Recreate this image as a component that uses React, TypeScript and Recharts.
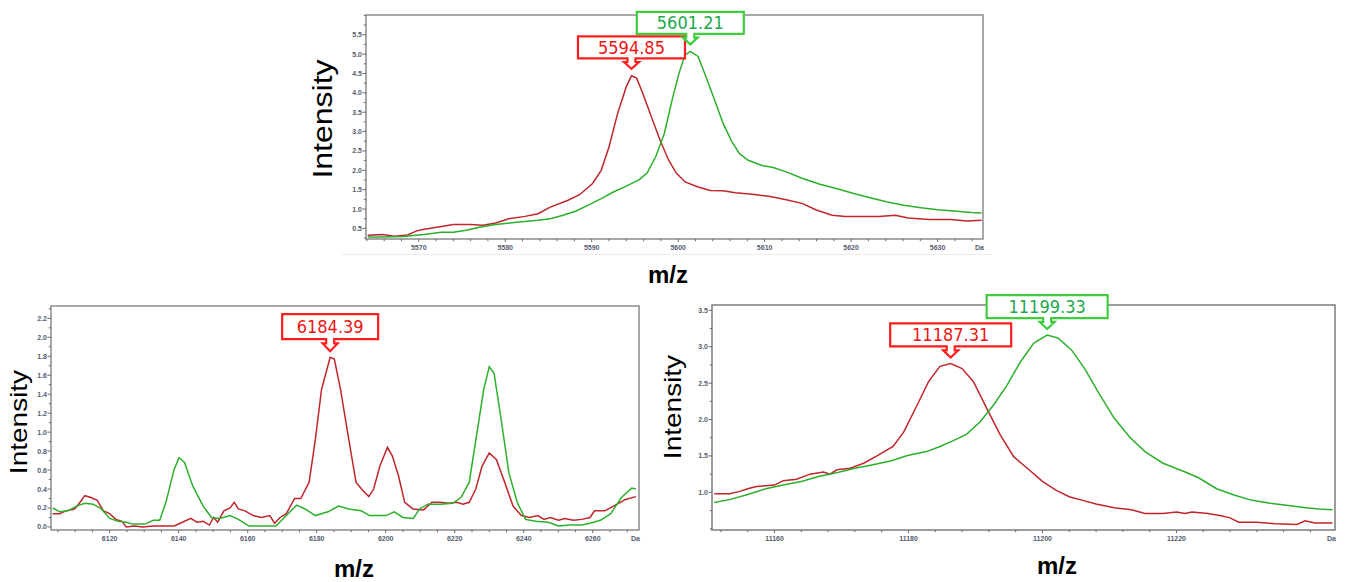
import React from 'react';
import { LineChart, Line, XAxis, YAxis, ReferenceArea, ReferenceDot } from 'recharts';

// ---------- Panel A (top) ----------
const mzA_red = [5564.1, 5565.8, 5567.2, 5568.7, 5569.7, 5570.6, 5572.1, 5574.0, 5576.0, 5577.4, 5578.9, 5580.4, 5582.3, 5583.8, 5585.2, 5587.2, 5588.6, 5590.1, 5591.1, 5592.0, 5593.0, 5594.0, 5594.6, 5595.2, 5595.9, 5596.9, 5597.9, 5598.9, 5599.8, 5600.8, 5602.3, 5603.7, 5605.2, 5606.6, 5608.6, 5610.5, 5612.5, 5614.4, 5615.9, 5617.8, 5619.3, 5621.2, 5623.2, 5625.1, 5626.6, 5629.0, 5631.5, 5633.4, 5635.1];
const intA_red = [0.32, 0.34, 0.30, 0.33, 0.43, 0.48, 0.53, 0.60, 0.60, 0.58, 0.64, 0.75, 0.81, 0.88, 1.05, 1.22, 1.37, 1.66, 2.0, 2.6, 3.47, 4.16, 4.44, 4.38, 3.99, 3.38, 2.78, 2.26, 1.92, 1.70, 1.57, 1.48, 1.47, 1.42, 1.38, 1.33, 1.24, 1.14, 0.98, 0.84, 0.81, 0.81, 0.81, 0.84, 0.77, 0.73, 0.73, 0.69, 0.71];
const mzA_green = [5564.1, 5565.8, 5568.2, 5570.6, 5572.6, 5574.0, 5575.5, 5577.0, 5578.9, 5581.3, 5583.8, 5585.2, 5586.7, 5588.2, 5589.6, 5591.1, 5592.5, 5594.0, 5595.5, 5596.4, 5597.4, 5598.4, 5599.3, 5600.1, 5600.8, 5601.4, 5602.3, 5603.2, 5604.2, 5605.2, 5606.2, 5607.1, 5608.1, 5609.6, 5611.0, 5612.5, 5614.4, 5616.4, 5618.3, 5620.3, 5622.2, 5624.2, 5626.1, 5628.1, 5630.0, 5631.9, 5633.9, 5635.1];
const intA_green = [0.28, 0.28, 0.29, 0.34, 0.40, 0.40, 0.45, 0.53, 0.60, 0.66, 0.71, 0.75, 0.84, 0.95, 1.10, 1.27, 1.44, 1.59, 1.76, 1.93, 2.35, 2.95, 3.82, 4.51, 4.98, 5.07, 4.94, 4.42, 3.82, 3.21, 2.74, 2.43, 2.26, 2.13, 2.07, 1.96, 1.79, 1.64, 1.53, 1.40, 1.29, 1.18, 1.10, 1.03, 0.98, 0.95, 0.91, 0.90];
const xTicksA = [5570, 5580, 5590, 5600, 5610, 5620, 5630];
const yTicksA = [0.5, 1.0, 1.5, 2.0, 2.5, 3.0, 3.5, 4.0, 4.5, 5.0, 5.5];
const xDomainA = [5563.9, 5635.25];
const yDomainA = [0.226, 6.01];
const peaksA = [
  { series: 'red', label: '5594.85' },
  { series: 'green', label: '5601.21' },
];

// ---------- Panel B (bottom left) ----------
const mzB_red = [6103.5, 6105.5, 6107.3, 6109.8, 6111.0, 6112.8, 6114.6, 6116.4, 6118.2, 6120.0, 6121.8, 6123.6, 6124.8, 6127.2, 6129.6, 6132.7, 6135.7, 6138.7, 6141.1, 6143.5, 6145.3, 6147.1, 6148.9, 6150.1, 6151.3, 6153.1, 6154.9, 6156.1, 6157.3, 6159.2, 6161.6, 6164.0, 6166.4, 6167.8, 6169.4, 6171.2, 6173.6, 6175.4, 6177.8, 6179.6, 6181.4, 6183.9, 6185.1, 6186.9, 6189.3, 6191.4, 6193.5, 6195.1, 6196.5, 6198.3, 6200.5, 6201.9, 6203.7, 6205.5, 6207.9, 6211.0, 6213.4, 6215.8, 6218.2, 6220.6, 6222.4, 6224.2, 6226.1, 6227.9, 6230.0, 6232.1, 6234.5, 6236.9, 6239.3, 6241.7, 6244.1, 6245.9, 6247.7, 6250.1, 6251.9, 6254.4, 6256.8, 6259.2, 6260.5, 6263.5, 6267.1, 6269.5, 6272.5];
const intB_red = [0.14, 0.14, 0.17, 0.19, 0.24, 0.33, 0.31, 0.28, 0.17, 0.14, 0.08, 0.06, 0.00, 0.01, 0.00, 0.01, 0.01, 0.01, 0.05, 0.09, 0.05, 0.06, 0.02, 0.10, 0.05, 0.17, 0.20, 0.26, 0.19, 0.17, 0.12, 0.10, 0.12, 0.04, 0.10, 0.14, 0.30, 0.30, 0.47, 0.92, 1.45, 1.79, 1.77, 1.45, 0.92, 0.47, 0.38, 0.32, 0.40, 0.64, 0.84, 0.75, 0.54, 0.26, 0.19, 0.18, 0.26, 0.26, 0.25, 0.26, 0.24, 0.26, 0.40, 0.64, 0.78, 0.71, 0.47, 0.22, 0.12, 0.10, 0.12, 0.08, 0.10, 0.07, 0.09, 0.07, 0.08, 0.10, 0.17, 0.17, 0.24, 0.29, 0.32];
const mzB_green = [6103.5, 6105.5, 6107.9, 6110.4, 6112.8, 6115.2, 6117.6, 6120.0, 6122.4, 6124.8, 6126.6, 6130.2, 6132.7, 6134.5, 6136.3, 6138.7, 6140.1, 6141.7, 6144.1, 6147.1, 6149.5, 6151.9, 6154.9, 6157.3, 6160.4, 6164.0, 6168.2, 6171.2, 6174.2, 6176.6, 6179.6, 6183.3, 6186.3, 6189.3, 6192.9, 6195.3, 6197.7, 6200.1, 6202.5, 6205.0, 6208.0, 6209.8, 6212.2, 6215.8, 6219.4, 6221.8, 6224.2, 6226.6, 6228.4, 6230.0, 6231.4, 6233.3, 6235.7, 6238.1, 6240.5, 6243.5, 6247.1, 6250.1, 6253.1, 6256.8, 6259.2, 6262.2, 6265.2, 6268.3, 6271.3, 6272.5];
const intB_green = [0.20, 0.16, 0.17, 0.22, 0.25, 0.24, 0.19, 0.09, 0.06, 0.05, 0.03, 0.03, 0.07, 0.07, 0.26, 0.61, 0.73, 0.68, 0.43, 0.22, 0.10, 0.09, 0.12, 0.08, 0.01, 0.01, 0.01, 0.12, 0.23, 0.19, 0.12, 0.16, 0.22, 0.19, 0.17, 0.12, 0.12, 0.12, 0.16, 0.10, 0.09, 0.19, 0.24, 0.24, 0.25, 0.31, 0.47, 1.03, 1.45, 1.69, 1.62, 1.17, 0.57, 0.26, 0.08, 0.06, 0.05, 0.01, 0.02, 0.02, 0.04, 0.07, 0.14, 0.31, 0.41, 0.40];
const xTicksB = [6120, 6140, 6160, 6180, 6200, 6220, 6240, 6260];
const yTicksB = [0.0, 0.2, 0.4, 0.6, 0.8, 1.0, 1.2, 1.4, 1.6, 1.8, 2.0, 2.2];
const xDomainB = [6103.0, 6273.4];
const yDomainB = [-0.032, 2.33];
const peaksB = [{ series: 'red', label: '6184.39' }];

// ---------- Panel C (bottom right) ----------
const mzC_red = [11151.0, 11153.3, 11154.7, 11156.0, 11157.3, 11160.0, 11161.3, 11163.3, 11165.3, 11167.3, 11168.3, 11169.3, 11171.3, 11173.3, 11175.3, 11177.7, 11179.3, 11181.3, 11183.0, 11184.7, 11186.3, 11188.0, 11189.7, 11191.7, 11193.7, 11195.7, 11198.0, 11200.0, 11202.0, 11204.0, 11206.0, 11208.0, 11210.7, 11213.3, 11215.3, 11218.0, 11220.0, 11221.3, 11222.3, 11224.7, 11226.7, 11228.0, 11229.3, 11232.0, 11234.7, 11238.0, 11239.2, 11240.7, 11243.3];
const intC_red = [0.98, 0.98, 1.01, 1.05, 1.08, 1.10, 1.16, 1.18, 1.25, 1.28, 1.25, 1.31, 1.33, 1.40, 1.50, 1.63, 1.83, 2.20, 2.52, 2.73, 2.77, 2.70, 2.52, 2.15, 1.79, 1.49, 1.31, 1.15, 1.03, 0.94, 0.89, 0.84, 0.79, 0.76, 0.71, 0.71, 0.73, 0.71, 0.73, 0.71, 0.68, 0.65, 0.59, 0.59, 0.57, 0.56, 0.61, 0.58, 0.58];
const mzC_green = [11151.0, 11153.3, 11156.0, 11158.7, 11161.3, 11164.0, 11166.7, 11169.3, 11172.0, 11174.7, 11177.3, 11180.0, 11182.7, 11184.7, 11186.7, 11188.7, 11190.7, 11192.7, 11194.7, 11196.7, 11198.7, 11200.7, 11202.3, 11204.3, 11206.3, 11208.3, 11210.7, 11213.0, 11215.3, 11218.0, 11221.3, 11223.3, 11226.0, 11228.7, 11231.3, 11234.0, 11236.7, 11239.3, 11241.3, 11243.3];
const intC_green = [0.86, 0.90, 0.97, 1.05, 1.10, 1.15, 1.22, 1.27, 1.33, 1.38, 1.43, 1.51, 1.56, 1.63, 1.71, 1.80, 1.97, 2.20, 2.47, 2.79, 3.05, 3.16, 3.12, 2.96, 2.70, 2.38, 2.02, 1.76, 1.56, 1.40, 1.28, 1.20, 1.05, 0.96, 0.89, 0.85, 0.82, 0.79, 0.77, 0.76];
const xTicksC = [11160, 11180, 11200, 11220];
const yTicksC = [1.0, 1.5, 2.0, 2.5, 3.0, 3.5];
const xDomainC = [11150.67, 11243.67];
const yDomainC = [0.483, 3.573];
const peaksC = [
  { series: 'red', label: '11187.31' },
  { series: 'green', label: '11199.33' },
];

// ---------- helpers ----------
const RED_LINE = '#c0262b';
const GREEN_LINE = '#2bb02b';
const RED_MARK = '#ff1c1c';
const GREEN_MARK = '#3fcc3f';
const RED_TEXT = '#f01414';
const GREEN_TEXT = '#1ea84c';
const TICK_COLOR = '#555d70';
const SANS = "'Liberation Sans', Arial, sans-serif";
const NARROW = "'Liberation Sans Narrow', 'DejaVu Sans Condensed', 'Liberation Sans', Arial, sans-serif";

type Pt = { mz: number; red?: number; green?: number };

function mergeSeries(rm: number[], ri: number[], gm: number[], gi: number[]): Pt[] {
  const pts: Pt[] = [];
  rm.forEach((m, i) => pts.push({ mz: m, red: ri[i] }));
  gm.forEach((m, i) => pts.push({ mz: m, green: gi[i] }));
  pts.sort((a, b) => a.mz - b.mz);
  return pts;
}

function peakOf(mz: number[], vals: number[]) {
  let k = 0;
  vals.forEach((v, i) => { if (v > vals[k]) k = i; });
  return { x: mz[k], y: vals[k] };
}

function withMinor(domain: number[], step: number, majors: number[]) {
  const out: number[] = [];
  const start = Math.ceil(domain[0] / step - 1e-9) * step;
  for (let v = start; v <= domain[1] + 1e-9; v += step) out.push(Math.round(v * 1000) / 1000);
  majors.forEach((m) => { if (!out.some((o) => Math.abs(o - m) < 1e-6)) out.push(m); });
  return out.sort((a, b) => a - b);
}

const isIn = (arr: number[], v: number) => arr.some((m) => Math.abs(m - v) < 1e-6);

const XTick = (props: any) => {
  const { x, y, payload, majors, daValue } = props;
  const v = payload.value;
  if (Math.abs(v - daValue) < 1e-6) {
    return (
      <text x={x + 1} y={y + 11} textAnchor="end" fontSize={7} fontWeight="bold" fontFamily={SANS} fill={TICK_COLOR}>Da</text>
    );
  }
  const major = isIn(majors, v);
  return (
    <g>
      <line x1={x} x2={x} y1={y} y2={y + (major ? 3 : 2.2)} stroke="#6a6a6a" strokeWidth={1} />
      {major && (
        <text x={x} y={y + 11} textAnchor="middle" fontSize={7} fontWeight="bold" fontFamily={SANS} fill={TICK_COLOR}>{v}</text>
      )}
    </g>
  );
};

const YTick = (props: any) => {
  const { x, y, payload, majors } = props;
  const v = payload.value;
  const major = isIn(majors, v);
  return (
    <g>
      <line x1={x - (major ? 3.5 : 2.2)} x2={x} y1={y} y2={y} stroke="#6a6a6a" strokeWidth={1} />
      {major && (
        <text x={x - 4} y={y + 2.5} textAnchor="end" fontSize={7} fontWeight="bold" fontFamily={SANS} fill={TICK_COLOR}>{v.toFixed(1)}</text>
      )}
    </g>
  );
};

const Title = (p: any) => {
  const { tx, ty, text, size, bold, rot, squash } = p;
  return (
    <text
      transform={`translate(${tx},${ty}) rotate(${rot || 0}) scale(1,${squash || 1})`}
      textAnchor="middle"
      dominantBaseline="central"
      fontSize={size}
      fontWeight={bold ? 'bold' : 'normal'}
      fontFamily={SANS}
      fill="#000"
    >
      {text}
    </text>
  );
};

const Callout = (p: any) => {
  const { cx, cy, label, stroke, textColor, w, h, arrow, gap, fs } = p;
  const tipY = cy - gap;
  const by = tipY - arrow;
  const ty = by - h;
  const x0 = cx - w / 2;
  const x1 = cx + w / 2;
  const sw = 4;
  const hw = 7.5;
  const sl = arrow * 0.35;
  const d = `M${x0},${ty} H${x1} V${by} H${cx + sw} V${by + sl} H${cx + hw} L${cx},${tipY} L${cx - hw},${by + sl} H${cx - sw} V${by} H${x0} Z`;
  return (
    <g>
      <path d={d} fill="#ffffff" stroke={stroke} strokeWidth={2.2} strokeLinejoin="miter" />
      <text x={cx} y={ty + h / 2 + fs * 0.36} textAnchor="middle" fontSize={fs} fontFamily={NARROW} fill={textColor}>
        {label}
      </text>
    </g>
  );
};

type PanelProps = {
  box: { left: number; top: number; w: number; h: number };
  margin: { top: number; right: number; bottom: number; left: number };
  data: Pt[];
  peaks: { series: string; label: string; x: number; y: number }[];
  xDomain: number[];
  yDomain: number[];
  xMajor: number[];
  xStep: number;
  yMajor: number[];
  yStep: number;
  intensity: { x: number; y: number; size: number };
  mz: { x: number; y: number; size: number };
  call: { w: number; h: number; arrow: number; gap: number; fs: number };
  frame: string;
};

const Panel = (p: PanelProps) => {
  const xAll = [...withMinor(p.xDomain, p.xStep, p.xMajor), p.xDomain[1]];
  const yAll = withMinor(p.yDomain, p.yStep, p.yMajor);
  return (
    <div style={{ position: 'absolute', left: p.box.left, top: p.box.top, width: p.box.w, height: p.box.h }}>
      <LineChart width={p.box.w} height={p.box.h} data={p.data} margin={p.margin}>
        <XAxis
          dataKey="mz"
          type="number"
          domain={p.xDomain}
          allowDataOverflow
          ticks={xAll}
          interval={0}
          tickSize={0}
          tickMargin={0}
          axisLine={false}
          tickLine={false}
          height={30}
          tick={<XTick majors={p.xMajor} daValue={p.xDomain[1]} />}
          label={<Title tx={p.mz.x} ty={p.mz.y} text="m/z" size={p.mz.size} bold />}
        />
        <YAxis
          type="number"
          domain={p.yDomain}
          allowDataOverflow
          ticks={yAll}
          interval={0}
          tickSize={0}
          tickMargin={0}
          axisLine={false}
          tickLine={false}
          width={40}
          tick={<YTick majors={p.yMajor} />}
          label={<Title tx={p.intensity.x} ty={p.intensity.y} text="Intensity" size={p.intensity.size} rot={-90} squash={0.86} />}
        />
        <ReferenceArea
          x1={p.xDomain[0]}
          x2={p.xDomain[1]}
          y1={p.yDomain[0]}
          y2={p.yDomain[1]}
          fill="none"
          fillOpacity={0}
          stroke={p.frame}
          strokeWidth={1.5}
          ifOverflow="visible"
        />
        <Line dataKey="red" type="linear" stroke={RED_LINE} strokeWidth={1.5} dot={false} connectNulls isAnimationActive={false} />
        <Line dataKey="green" type="linear" stroke={GREEN_LINE} strokeWidth={1.5} dot={false} connectNulls isAnimationActive={false} />
        {p.peaks.map((pk) => (
          <ReferenceDot
            key={pk.label}
            x={pk.x}
            y={pk.y}
            r={2}
            ifOverflow="visible"
            shape={(sp: any) => (
              <Callout
                cx={sp.cx}
                cy={sp.cy}
                label={pk.label}
                stroke={pk.series === 'red' ? RED_MARK : GREEN_MARK}
                textColor={pk.series === 'red' ? RED_TEXT : GREEN_TEXT}
                {...p.call}
              />
            )}
          />
        ))}
      </LineChart>
    </div>
  );
};

function attachPeaks(peaks: { series: string; label: string }[], rm: number[], ri: number[], gm: number[], gi: number[]) {
  return peaks.map((pk) => {
    const pos = pk.series === 'red' ? peakOf(rm, ri) : peakOf(gm, gi);
    return { ...pk, ...pos };
  });
}

export default function App() {
  const dataA = mergeSeries(mzA_red, intA_red, mzA_green, intA_green);
  const dataB = mergeSeries(mzB_red, intB_red, mzB_green, intB_green);
  const dataC = mergeSeries(mzC_red, intC_red, mzC_green, intC_green);
  return (
    <div style={{ position: 'absolute', left: 0, top: 0, width: 1350, height: 582, background: '#ffffff', overflow: 'hidden' }}>
      <div style={{ position: 'absolute', left: 342, top: 254, width: 650, height: 1, background: '#ececec' }} />
      <Panel
        box={{ left: 290, top: 0, w: 720, h: 290 }}
        margin={{ top: 15, right: 27, bottom: 21, left: 36 }}
        data={dataA}
        peaks={attachPeaks(peaksA, mzA_red, intA_red, mzA_green, intA_green)}
        xDomain={xDomainA}
        yDomain={yDomainA}
        xMajor={xTicksA}
        xStep={2}
        yMajor={yTicksA}
        yStep={0.25}
        intensity={{ x: 32, y: 119, size: 32 }}
        mz={{ x: 378, y: 274, size: 24 }}
        call={{ w: 107, h: 22, arrow: 10.5, gap: 7, fs: 18 }}
        frame="#8c8c8c"
      />
      <Panel
        box={{ left: 0, top: 290, w: 650, h: 292 }}
        margin={{ top: 16, right: 11, bottom: 22, left: 11 }}
        data={dataB}
        peaks={attachPeaks(peaksB, mzB_red, intB_red, mzB_green, intB_green)}
        xDomain={xDomainB}
        yDomain={yDomainB}
        xMajor={xTicksB}
        xStep={5}
        yMajor={yTicksB}
        yStep={0.1}
        intensity={{ x: 19, y: 132, size: 28 }}
        mz={{ x: 354, y: 278, size: 24 }}
        call={{ w: 96, h: 25, arrow: 12, gap: 6, fs: 18 }}
        frame="#8c8c8c"
      />
      <Panel
        box={{ left: 650, top: 285, w: 700, h: 297 }}
        margin={{ top: 20, right: 15, bottom: 22, left: 22 }}
        data={dataC}
        peaks={attachPeaks(peaksC, mzC_red, intC_red, mzC_green, intC_green)}
        xDomain={xDomainC}
        yDomain={yDomainC}
        xMajor={xTicksC}
        xStep={4}
        yMajor={yTicksC}
        yStep={0.25}
        intensity={{ x: 22.5, y: 122, size: 28 }}
        mz={{ x: 407, y: 280, size: 24 }}
        call={{ w: 121, h: 23, arrow: 11, gap: 6, fs: 18 }}
        frame="#7c7c7c"
      />
    </div>
  );
}
